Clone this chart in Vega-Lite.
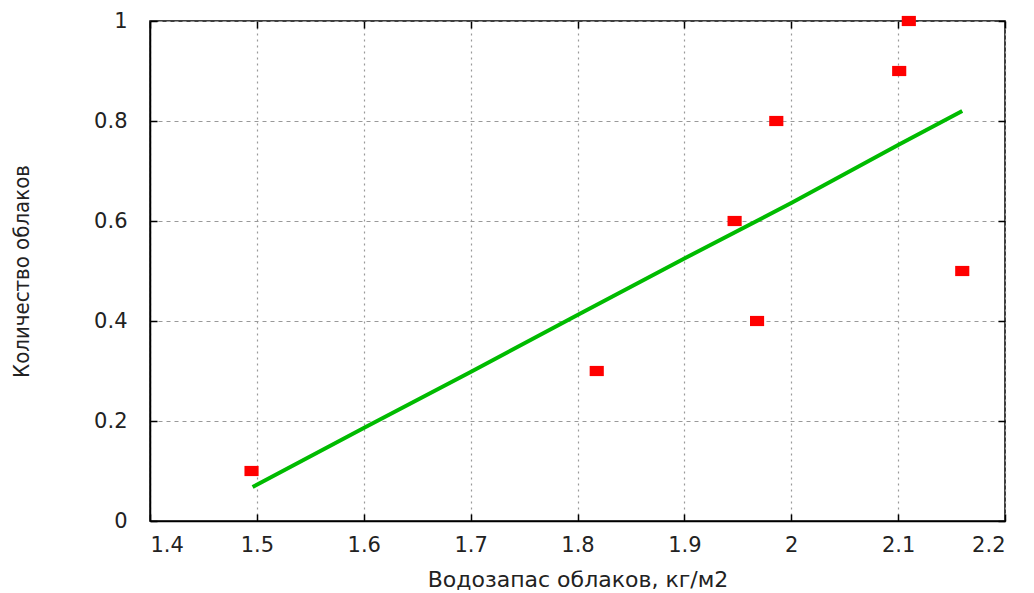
{
  "$schema": "https://vega.github.io/schema/vega-lite/v6.json",
  "width": 855,
  "height": 500,
  "autosize": {"type": "none"},
  "padding": {"left": 150, "top": 21, "right": 29, "bottom": 72},
  "background": "white",
  "config": {
    "view": {"stroke": "#000000", "strokeWidth": 1.5},
    "axis": {
      "labelFont": "DejaVu Sans",
      "labelFontSize": 21,
      "labelColor": "#222222",
      "titleFont": "DejaVu Sans",
      "titleFontWeight": "normal",
      "titleColor": "#222222",
      "domainColor": "#000000",
      "domainWidth": 1.5,
      "tickColor": "#000000",
      "tickWidth": 1.5
    }
  },
  "datasets": {
    "pts": [
      {"x": 1.495, "y": 0.1},
      {"x": 1.818, "y": 0.3},
      {"x": 1.947, "y": 0.6},
      {"x": 1.968, "y": 0.4},
      {"x": 1.986, "y": 0.8},
      {"x": 2.101, "y": 0.9},
      {"x": 2.110, "y": 1.0},
      {"x": 2.160, "y": 0.5}
    ],
    "fit": [
      {"x": 1.496, "y": 0.068},
      {"x": 1.6, "y": 0.186},
      {"x": 1.7, "y": 0.298},
      {"x": 1.8, "y": 0.412},
      {"x": 1.9, "y": 0.525},
      {"x": 2.0, "y": 0.636},
      {"x": 2.1, "y": 0.752},
      {"x": 2.16, "y": 0.82}
    ]
  },
  "layer": [
    {
      "data": {"name": "fit"},
      "mark": {"type": "line", "color": "#00bb00", "strokeWidth": 4, "clip": false},
      "encoding": {
        "x": {
          "field": "x", "type": "quantitative",
          "scale": {"domain": [1.4, 2.2], "nice": false, "zero": false},
          "axis": {
            "orient": "top", "labels": false, "title": null, "domain": false,
            "values": [1.4, 1.5, 1.6, 1.7, 1.8, 1.9, 2.0, 2.1, 2.2],
            "tickSize": -7, "grid": false
          }
        },
        "y": {
          "field": "y", "type": "quantitative",
          "scale": {"domain": [0, 1], "nice": false},
          "axis": {
            "orient": "right", "labels": false, "title": null, "domain": false,
            "values": [0, 0.2, 0.4, 0.6, 0.8, 1],
            "tickSize": -7, "grid": false
          }
        }
      }
    },
    {
      "data": {"name": "pts"},
      "mark": {"type": "point", "shape": "M-1,-0.72L1,-0.72L1,0.72L-1,0.72Z", "filled": true, "color": "#ff0000", "opacity": 1, "size": 200, "clip": false},
      "encoding": {
        "x": {
          "field": "x", "type": "quantitative",
          "axis": {
            "orient": "bottom",
            "title": "Водозапас облаков, кг/м2",
            "titleFontSize": 22,
            "titlePadding": 14,
            "values": [1.4, 1.5, 1.6, 1.7, 1.8, 1.9, 2.0, 2.1, 2.2],
            "format": "~g",
            "tickSize": -7,
            "labelPadding": 20,
            "grid": true,
            "gridColor": "#999999",
            "gridDash": [2, 4],
            "gridWidth": 1.2
          }
        },
        "y": {
          "field": "y", "type": "quantitative",
          "axis": {
            "orient": "left",
            "title": "Количество облаков",
            "titleFont": "DejaVu Sans Condensed",
            "titleFontSize": 22,
            "titlePadding": 60,
            "values": [0, 0.2, 0.4, 0.6, 0.8, 1],
            "format": "~g",
            "tickSize": -7,
            "labelPadding": 30,
            "grid": true,
            "gridColor": "#999999",
            "gridDash": [4, 4],
            "gridWidth": 1.2
          }
        }
      }
    }
  ]
}
